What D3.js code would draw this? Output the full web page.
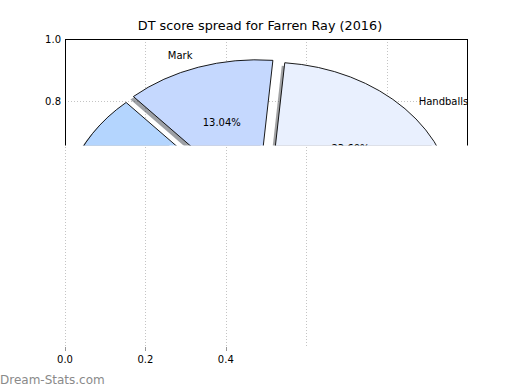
<!DOCTYPE html>
<html>
<head>
<meta charset="utf-8">
<script src="https://cdn.jsdelivr.net/npm/d3@7"></script>
<style>
	body { margin: 0; background: #fff; }
	svg { display: block; font-family: 'DejaVu Sans', sans-serif; }
</style>
</head>
<body>
<div id="canvas"></div>
<script>
// wedge data (counter-clockwise from 3 o'clock, like matplotlib)
const categories = ['Handballs', 'Mark', 'Tackle', 'Kick', 'Goal', 'Free For'];
const shares = [23.6, 13.04, 18.0, 38.5, 4.2, 2.66];
const colors = ['#e9f0fe', '#c5d8fe', '#b4d5fe', '#d6e6fe', '#a9cbf5', '#dbe9ff'];
const xTicks = [0, 0.2, 0.4, 0.6, 0.8, 1.0];
const yTicks = [0, 0.2, 0.4, 0.6, 0.8, 1.0];
const xTickLabels = ['0.0', '0.2', '0.4'];
const yTickLabels = ['0.8', '1.0'];

const width = 520;
const height = 390;
const title = 'DT score spread for Farren Ray (2016)';
const pieCenter = [0.486, 0.447];
const pieRadius = 0.46;
const explode = 0.028;
const clipY = 145.5;

const x = d3.scaleLinear().domain([0, 1]).range([65, 467]);
const y = d3.scaleLinear().domain([0, 1]).range([351, 39]);

const svg = d3.select('#canvas').append('svg').attr('width', width).attr('height', height);

svg.append('defs').append('clipPath').attr('id', 'upperClip')
	.append('rect').attr('x', 0).attr('y', 0).attr('width', width).attr('height', clipY);

const upper = svg.append('g').attr('clip-path', 'url(#upperClip)');

// grid (under the pie)
const grid = upper.append('g')
	.attr('stroke', '#c4c4c4')
	.attr('stroke-width', 1)
	.attr('stroke-dasharray', '1,2');
grid.selectAll('line.v').data(xTicks).join('line').attr('class', 'v')
	.attr('x1', d => Math.round(x(d)) + 0.5).attr('x2', d => Math.round(x(d)) + 0.5)
	.attr('y1', y(1)).attr('y2', y(0));
grid.selectAll('line.h').data(yTicks).join('line').attr('class', 'h')
	.attr('y1', d => Math.round(y(d)) + 0.5).attr('y2', d => Math.round(y(d)) + 0.5)
	.attr('x1', x(0)).attr('x2', x(1));

// pie
const pie = d3.pie().sort(null).startAngle(Math.PI / 2).endAngle(Math.PI / 2 - 2 * Math.PI);
const arcs = pie(shares).map((p, i) => {
	const mid = Math.PI / 2 - (p.startAngle + p.endAngle) / 2; // math angle
	const cx = pieCenter[0] + explode * Math.cos(mid);
	const cy = pieCenter[1] + explode * Math.sin(mid);
	return { ...p, i, mid, cx, cy };
});
const arcGen = d3.arc().innerRadius(0).outerRadius(pieRadius);
const kx = x(1) - x(0);
const ky = y(0) - y(1);

upper.append('g').selectAll('path').data(arcs).join('path')
	.attr('d', arcGen)
	.attr('transform', d => `translate(${x(d.cx) - 3},${y(d.cy) + 3}) scale(${kx},${ky})`)
	.attr('fill', d => {
		const c = d3.rgb(colors[d.i]);
		return d3.rgb(c.r * 0.3, c.g * 0.3, c.b * 0.3);
	})
	.attr('fill-opacity', 0.5);

upper.append('g').selectAll('path').data(arcs).join('path')
	.attr('d', arcGen)
	.attr('transform', d => `translate(${x(d.cx)},${y(d.cy)}) scale(${kx},${ky})`)
	.attr('fill', d => colors[d.i])
	.attr('stroke', '#000')
	.attr('stroke-width', 0.9)
	.attr('vector-effect', 'non-scaling-stroke');

// labels and percentages
upper.append('g').selectAll('text').data(arcs).join('text')
	.attr('x', d => x(d.cx + 1.1 * pieRadius * Math.cos(d.mid)))
	.attr('y', d => y(d.cy + 1.1 * pieRadius * Math.sin(d.mid)))
	.attr('dy', 2)
	.attr('text-anchor', d => (Math.cos(d.mid) >= 0 ? 'start' : 'end'))
	.attr('dominant-baseline', 'central')
	.attr('font-size', 10)
	.text(d => categories[d.i]);

upper.append('g').selectAll('text').data(arcs).join('text')
	.attr('x', d => x(d.cx + 0.6 * pieRadius * Math.cos(d.mid)))
	.attr('y', d => y(d.cy + 0.6 * pieRadius * Math.sin(d.mid)))
	.attr('dy', 1)
	.attr('text-anchor', 'middle')
	.attr('dominant-baseline', 'central')
	.attr('font-size', 10)
	.text(d => d3.format('.2f')(shares[d.i]) + '%');

// frame
upper.append('rect')
	.attr('x', x(0) + 0.5).attr('y', y(1) + 0.5)
	.attr('width', x(1) - x(0)).attr('height', y(0) - y(1))
	.attr('fill', 'none').attr('stroke', '#000').attr('stroke-width', 1);

// y tick labels
svg.append('g').selectAll('text').data(yTickLabels).join('text')
	.attr('x', x(0) - 4)
	.attr('y', d => y(+d))
	.attr('text-anchor', 'end')
	.attr('dominant-baseline', 'central')
	.attr('font-size', 10)
	.text(d => d);

// lower part: only the first grid lines, ticks and labels are left
const low = svg.append('g');
low.selectAll('line.g').data(xTicks.slice(0, 4)).join('line').attr('class', 'g')
	.attr('x1', d => Math.round(x(d)) + 0.5).attr('x2', d => Math.round(x(d)) + 0.5)
	.attr('y1', 147).attr('y2', 347)
	.attr('stroke', '#c4c4c4').attr('stroke-dasharray', '1,2');
low.selectAll('line.t').data(xTickLabels).join('line').attr('class', 't')
	.attr('x1', d => Math.round(x(+d)) + 0.5).attr('x2', d => Math.round(x(+d)) + 0.5)
	.attr('y1', 347).attr('y2', 351)
	.attr('stroke', '#999');
low.selectAll('text').data(xTickLabels).join('text')
	.attr('x', d => x(+d))
	.attr('y', 359)
	.attr('text-anchor', 'middle')
	.attr('dominant-baseline', 'central')
	.attr('font-size', 10)
	.text(d => d);

svg.append('text')
	.attr('x', 260).attr('y', 29.5)
	.attr('text-anchor', 'middle')
	.attr('font-size', 12.8)
	.text(title);

svg.append('text')
	.attr('x', 0).attr('y', 384)
	.attr('font-size', 12)
	.attr('fill', '#8a8a8a')
	.text('Dream-Stats.com');
</script>
</body>
</html>
